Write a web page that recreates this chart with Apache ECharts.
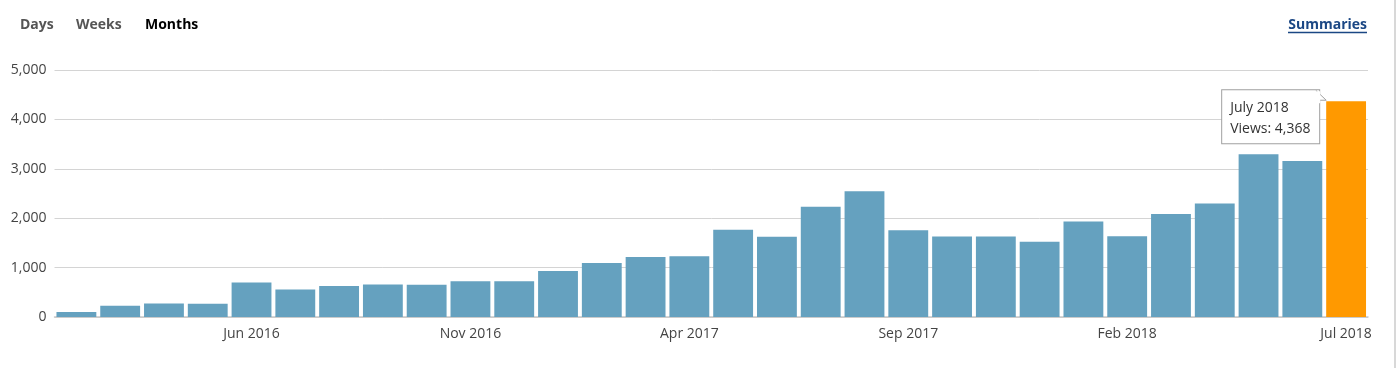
<!DOCTYPE html>
<html>
<head>
<meta charset="utf-8">
<script src="https://cdn.jsdelivr.net/npm/echarts@6/dist/echarts.min.js"></script>
<style>
html,body{margin:0;padding:0;background:#fff;}
#chart{width:1397px;height:368px;}
</style>
</head>
<body>
<div id="chart"></div>
<script>
const categories = ['Feb 2016','Mar 2016','Apr 2016','May 2016','Jun 2016','Jul 2016','Aug 2016','Sep 2016','Oct 2016','Nov 2016','Dec 2016',
  'Jan 2017','Feb 2017','Mar 2017','Apr 2017','May 2017','Jun 2017','Jul 2017','Aug 2017','Sep 2017','Oct 2017','Nov 2017','Dec 2017',
  'Jan 2018','Feb 2018','Mar 2018','Apr 2018','May 2018','Jun 2018','Jul 2018'];
const views = [100,230,275,270,700,556,629,657,652,724,726,933,1095,1217,1231,1765,1623,2231,2544,1758,1631,1631,1521,1935,1637,2083,2300,3294,3158,4368];
const highlightIndex = 29;
const tooltipTitle = 'July 2018';
const tooltipLabel = 'Views';
const navItems = ['Days','Weeks','Months'];
const linkText = 'Summaries';

(function(){
const FONT = '"Open Sans", "Noto Sans", sans-serif';
const chart = echarts.init(document.getElementById('chart'), null, {renderer:'canvas'});

function fmt(v){ return v.toLocaleString('en-US'); }

const seriesData = views.map((v,i)=>{
  if(i!==highlightIndex) return v;
  return {
    value:v,
    itemStyle:{color:'#ff9900'},
    label:{
      show:true,
      position:[-104,-11],
      formatter: tooltipTitle + '\n' + tooltipLabel + ': ' + fmt(v),
      backgroundColor:'#fff',
      borderColor:'#a0a0a0',
      borderWidth:1,
      padding:[7,7,4,8],
      lineHeight:21,
      color:'#333',
      fontFamily:FONT,
      fontSize:14,
      width:82
    }
  };
});

const baseGraphic = [
  {type:'text',left:20,top:18,style:{text:navItems[0],font:'bold 14px '+FONT,fill:'#555'}},
  {type:'text',left:76,top:18,style:{text:navItems[1],font:'bold 14px '+FONT,fill:'#555'}},
  {type:'text',left:145,top:18,style:{text:navItems[2],font:'bold 14px '+FONT,fill:'#000'}},
  {type:'text',right:30,top:18,style:{text:linkText,font:'bold 14px '+FONT,fill:'#1b4784'}},
  {type:'line',shape:{x1:1288,y1:32.5,x2:1367,y2:32.5},style:{stroke:'#1b4784',lineWidth:1.3}},
  {type:'line',shape:{x1:1395,y1:0,x2:1395,y2:368},style:{stroke:'#d8d8d8',lineWidth:2}}
];

const option = {
  animation:false,
  textStyle:{fontFamily:FONT},
  grid:{left:54.5,right:29,top:70,bottom:51,containLabel:false},
  xAxis:{
    type:'category',
    data:categories,
    axisTick:{show:false},
    axisLine:{lineStyle:{color:'#c8c8c8',width:1.5}},
    axisLabel:{
      interval:(i)=> i%5===4,
      color:'#444',fontSize:14,fontFamily:FONT,margin:10
    }
  },
  yAxis:{
    type:'value',min:0,max:5000,interval:1000,
    axisLine:{show:false},axisTick:{show:false},
    splitLine:{lineStyle:{color:'#d4d4d4',width:1}},
    axisLabel:{color:'#444',fontSize:14,fontFamily:FONT,margin:8,formatter:(v)=>fmt(v)}
  },
  series:[{
    type:'bar',
    data:seriesData,
    barCategoryGap:'9%',
    itemStyle:{color:'#65a1bf'}
  }],
  graphic:baseGraphic
};
chart.setOption(option);

const barTop = chart.convertToPixel({gridIndex:0},[highlightIndex, views[highlightIndex]]);
const bx = barTop[0] - 19.9 - 104 + 98; // box right edge
const by = barTop[1] - 11;              // box top edge
chart.setOption({graphic:baseGraphic.concat([
  {type:'polygon',shape:{points:[[bx-4,by+0.5],[bx+6,by+10],[bx-0.5,by+10]]},style:{fill:'#fff',stroke:'#a0a0a0',lineWidth:1},z:100},
  {type:'rect',shape:{x:bx-5,y:by+1,width:5,height:12},style:{fill:'#fff'},z:101}
])});
})();
</script>
</body>
</html>
